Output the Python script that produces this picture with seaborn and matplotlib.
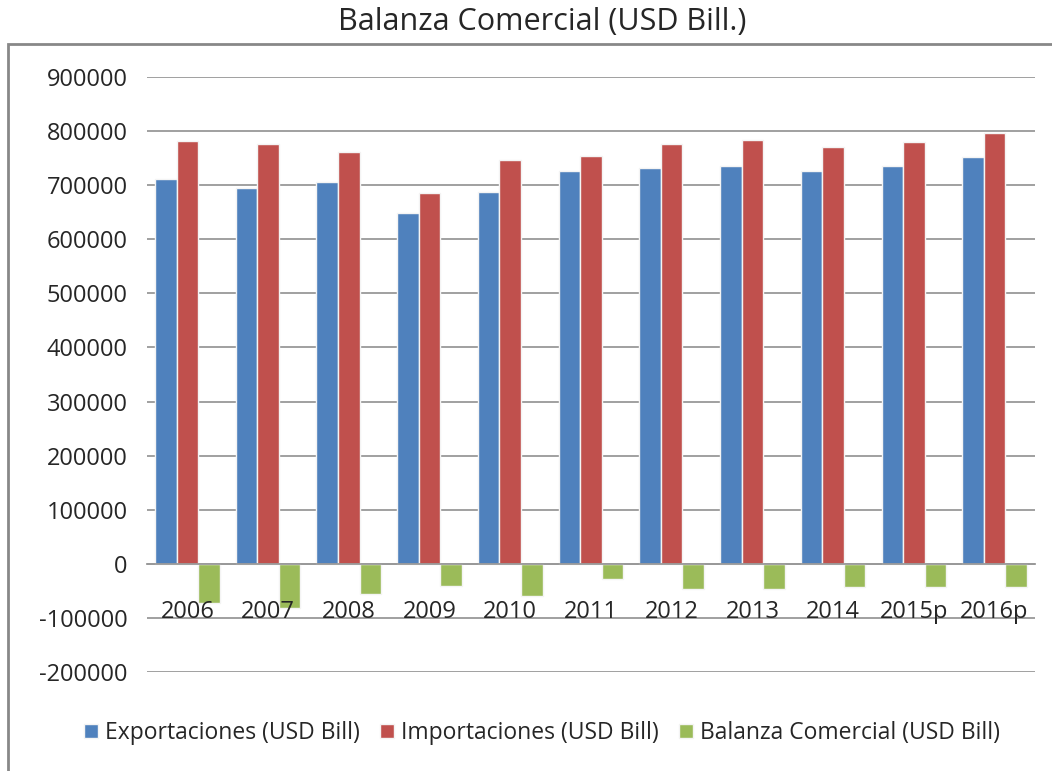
import numpy as np
import pandas as pd
import matplotlib
matplotlib.use("Agg")
import matplotlib.pyplot as plt
import seaborn as sns
from matplotlib.patches import Rectangle

# Data
years = ["2006", "2007", "2008", "2009", "2010", "2011", "2012", "2013", "2014", "2015p", "2016p"]
exportaciones = [711000, 695000, 705000, 648000, 687000, 726000, 731000, 736000, 726000, 736000, 752000]
importaciones = [782000, 777000, 762000, 685000, 746000, 754000, 777000, 783000, 770000, 780000, 796000]
balanza = [-72000, -82000, -56000, -41000, -59000, -28000, -46000, -46000, -43000, -43000, -42000]

series = ["Exportaciones (USD Bill)", "Importaciones (USD Bill)", "Balanza Comercial (USD Bill)"]
colors = ["#4F81BD", "#C0504D", "#9BBB59"]

df = pd.DataFrame({
    "year": years * 3,
    "value": exportaciones + importaciones + balanza,
    "serie": [series[0]] * 11 + [series[1]] * 11 + [series[2]] * 11,
})

sns.set_style("white")
plt.rcParams["font.family"] = ["Open Sans", "DejaVu Sans"]
plt.rcParams["axes.unicode_minus"] = False

fig = plt.figure(figsize=(10.52, 7.71), dpi=100)
ax = fig.add_axes([0.1397, 0.1284, 0.8441, 0.7717])

sns.barplot(data=df, x="year", y="value", hue="serie", palette=colors, saturation=1,
            width=0.8, edgecolor="#f4f4f4", linewidth=1, ax=ax, legend=True)

ax.set_ylim(-200000, 900000)
ax.set_xlim(-0.5, 10.5)
ax.set_yticks(np.arange(-200000, 900001, 100000))
ax.yaxis.grid(True, color="#999999", linewidth=1.3)
ax.set_axisbelow(True)
ax.xaxis.set_zorder(5)  # year labels sit on top of the bars
for s in ["left", "right", "top"]:
    ax.spines[s].set_visible(False)
ax.spines["bottom"].set_position(("data", 0))
ax.spines["bottom"].set_color("#999999")
ax.spines["bottom"].set_linewidth(1.3)
ax.spines["bottom"].set_zorder(1)
ax.tick_params(axis="y", length=0, pad=14, labelsize=17)
ax.tick_params(axis="x", length=0, pad=26, labelsize=17)
ax.set_xlabel("")
ax.set_ylabel("")

handles, labels = ax.get_legend_handles_labels()
ax.get_legend().remove()
fig.legend(handles, labels, loc="center", bbox_to_anchor=(0.515, 0.049), ncol=3,
           frameon=False, fontsize=16.5, handlelength=0.6, handleheight=0.6,
           handletextpad=0.3, columnspacing=0.9)

fig.text(0.515, 0.972, "Balanza Comercial (USD Bill.)", ha="center", va="center", fontsize=22)

# outer chart border (left and top visible)
fig.patches.append(Rectangle((8 / 1052, -0.1), 1.2, 1 - 44 / 771 + 0.1, transform=fig.transFigure,
                             fill=False, edgecolor="#888888", linewidth=2))

fig.savefig("out.png", dpi=100)
